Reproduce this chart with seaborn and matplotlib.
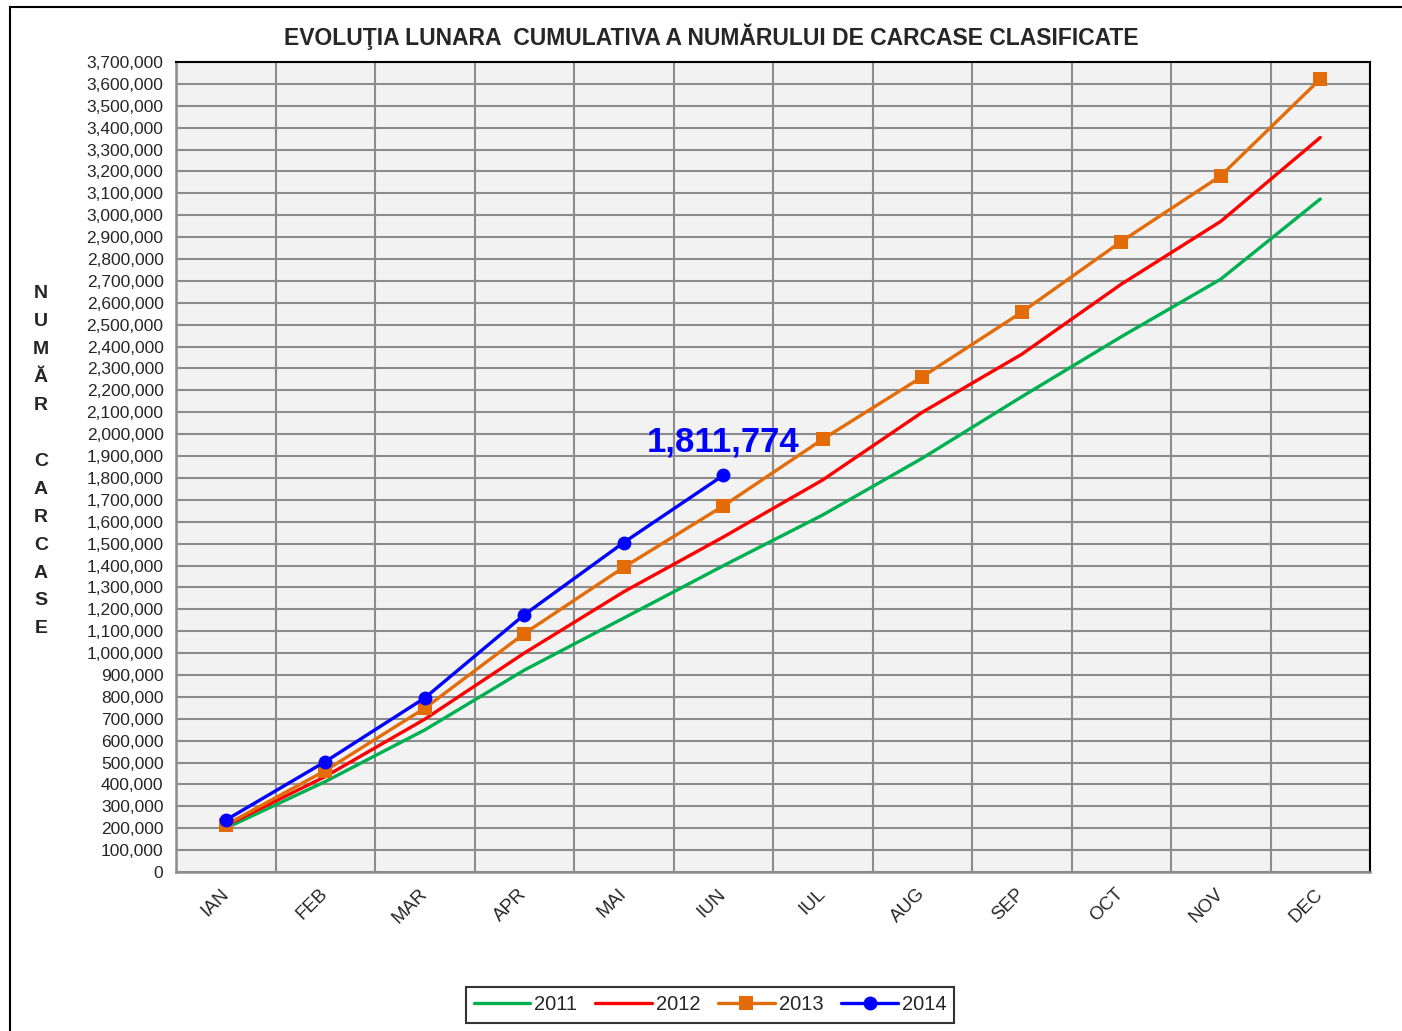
import numpy as np
import pandas as pd
import matplotlib
matplotlib.use("Agg")
import matplotlib.pyplot as plt
from matplotlib.patches import Rectangle
from matplotlib.ticker import FuncFormatter, MultipleLocator
import seaborn as sns

# === Data ===
months = ["IAN", "FEB", "MAR", "APR", "MAI", "IUN", "IUL", "AUG", "SEP", "OCT", "NOV", "DEC"]
v2011 = [200000, 413000, 649000, 922000, 1160000, 1399000, 1631000, 1890000, 2171000, 2445000, 2708000, 3074000]
v2012 = [212000, 436000, 698000, 1000000, 1280000, 1530000, 1791000, 2100000, 2365000, 2685000, 2972000, 3355000]
v2013 = [215000, 463000, 748000, 1089000, 1392000, 1672000, 1977000, 2262000, 2557000, 2880000, 3180000, 3622000]
v2014 = [237000, 504000, 795000, 1175000, 1505000, 1811774]

title = "EVOLUŢIA LUNARA  CUMULATIVA A NUMĂRULUI DE CARCASE CLASIFICATE"
ylabel_letters = list("NUMĂR") + [""] + list("CARCASE")

sns.set_style("white")
plt.rcParams["font.family"] = ["Liberation Sans", "DejaVu Sans"]

fig = plt.figure(figsize=(14.02, 10.31), dpi=100)
ax = fig.add_axes([176 / 1402, 1 - 872 / 1031, (1370 - 176) / 1402, (872 - 62) / 1031])
ax.set_facecolor("#F2F2F2")

series = [
    ("2011", v2011, "#00B050", None, 0),
    ("2012", v2012, "#FF0000", None, 0),
    ("2013", v2013, "#E36C09", "s", 9.5),
    ("2014", v2014, "#0000FF", "o", 10),
]
for name, vals, color, marker, ms in series:
    x = np.arange(len(vals))
    sns.lineplot(x=x, y=vals, ax=ax, color=color, linewidth=2.4, marker=marker,
                 markersize=ms, markeredgewidth=0, label=name, zorder=3)

ax.set_xlim(-0.5, 11.5)
ax.set_ylim(0, 3700000)

# grid: horizontal every 100k, vertical at category boundaries
ax.yaxis.set_major_locator(MultipleLocator(100000))
ax.yaxis.set_major_formatter(FuncFormatter(lambda v, p: f"{int(v):,}"))
ax.set_xticks(np.arange(len(months)))
ax.set_xticks(np.arange(-0.5, 12, 1), minor=True)
ax.grid(False)
ax.grid(True, axis="y", which="major", color="#8C8C8C", linewidth=1.5, zorder=1)
ax.grid(True, axis="x", which="minor", color="#8C8C8C", linewidth=1.5, zorder=1)
ax.set_axisbelow(True)

ax.set_xticklabels(months, rotation=45, ha="right", va="center", rotation_mode="anchor",
                   fontsize=13.5)
ax.tick_params(axis="x", which="major", length=0, pad=14)
ax.tick_params(axis="x", which="minor", length=6, width=1.5, color="#8C8C8C", direction="out")
ax.tick_params(axis="y", which="major", length=5, width=1.5, color="#8C8C8C", direction="out",
               labelsize=12.5, pad=4)

for side in ["left", "bottom"]:
    ax.spines[side].set_color("#8C8C8C")
    ax.spines[side].set_linewidth(1.8)
for side in ["top", "right"]:
    ax.spines[side].set_color("black")
    ax.spines[side].set_linewidth(1.5)
ax.set_xlabel("")
ax.set_ylabel("")

# final value label
ax.annotate(f"{v2014[-1]:,}", xy=(len(v2014) - 1, v2014[-1]), xytext=(0, 17),
            textcoords="offset points", ha="center", va="baseline",
            fontsize=25, fontweight="bold", color="#0000FF")

fig.text(711 / 1402, 1 - 37 / 1031, title, ha="center", va="center",
         fontsize=16.5, fontweight="bold")

# stacked vertical axis title
for i, ch in enumerate(ylabel_letters):
    fig.text(41 / 1402, 1 - (294 + i * 27.9) / 1031, ch, ha="center", va="center",
             fontsize=14, fontweight="bold")

ax.get_legend().remove()
handles, labels = ax.get_legend_handles_labels()
leg = fig.legend(handles, labels, loc="center", bbox_to_anchor=(710 / 1402, 1 - 1005 / 1031),
                 ncol=4, fontsize=14.5, frameon=True, fancybox=False, handlelength=2.8,
                 columnspacing=0.9, handletextpad=0.2, borderpad=0.4)
leg.get_frame().set_edgecolor("black")
leg.get_frame().set_linewidth(1.5)

# outer chart frame
fig.patches.append(Rectangle((10 / 1402, -0.01), 1.02, 0.01 + 1 - 7 / 1031,
                             transform=fig.transFigure, fill=False, edgecolor="black",
                             linewidth=1.5))

fig.savefig("out.png", dpi=100)
